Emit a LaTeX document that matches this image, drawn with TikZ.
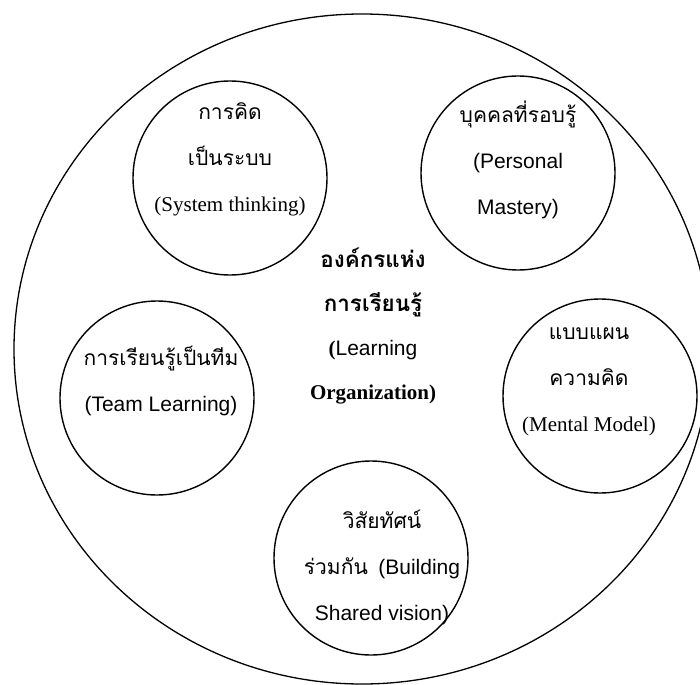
\documentclass[tikz,border=0pt]{standalone}
\usepackage{fontspec}
\setmainfont{Liberation Serif}
\setsansfont{Liberation Sans}
\newfontfamily\thaifont[Script=Thai]{Loma}
\usetikzlibrary{positioning}

\begin{document}
\begin{tikzpicture}[
    x=0.5pt, y=-0.5pt,
    disc/.style={draw, circle, line width=0.7pt, minimum size=97pt, inner sep=0pt},
    lbl/.style={align=center, inner sep=0pt, font=\fontsize{10.5}{23}\selectfont}
]
\useasboundingbox (0,0) rectangle (700,684);
\clip (0,0) rectangle (700,684);

% outer boundary
\draw[line width=0.65pt] (362,349) ellipse [x radius=174pt, y radius=167.5pt];

% the five disciplines
\node[disc] (system) at (230,178) {};
\node[disc] (mastery) at (518,173) {};
\node[disc] (team) at (157,398) {};
\node[disc] (mental) at (600,396) {};
\node[disc] (vision) at (371,558) {};

\node[lbl] (systemtxt) at (230,159) {{\thaifont การคิด}\\{\thaifont เป็นระบบ}\\(System thinking)};
\node[lbl] (masterytxt) at (518,160) {{\thaifont บุคคลที่รอบรู้}\\{\sffamily (Personal}\\{\sffamily Mastery)}};
\node[lbl] (teamtxt) at (161,381) {{\thaifont การเรียนรู้เป็นทีม}\\{\sffamily (Team Learning)}};
\node[lbl] (mentaltxt) at (589,382) {{\thaifont แบบแผน}\\{\thaifont ความคิด}\\(Mental Model)};
\node[lbl] (visiontxt) at (382,567) {{\thaifont วิสัยทัศน์}\\{\thaifont ร่วมกัน}\ \ {\sffamily (Building}\\{\sffamily Shared vision)}};

% centre
\node[lbl, font=\fontsize{10.5}{22}\selectfont] (org) at (373,326) {{\thaifont\bfseries\fontsize{11.2}{22}\selectfont องค์กรแห่ง}\\{\thaifont\bfseries\fontsize{11.2}{22}\selectfont การเรียนรู้}\\{\bfseries(}{\sffamily Learning}\\{\bfseries Organization)}};

\end{tikzpicture}
\end{document}
